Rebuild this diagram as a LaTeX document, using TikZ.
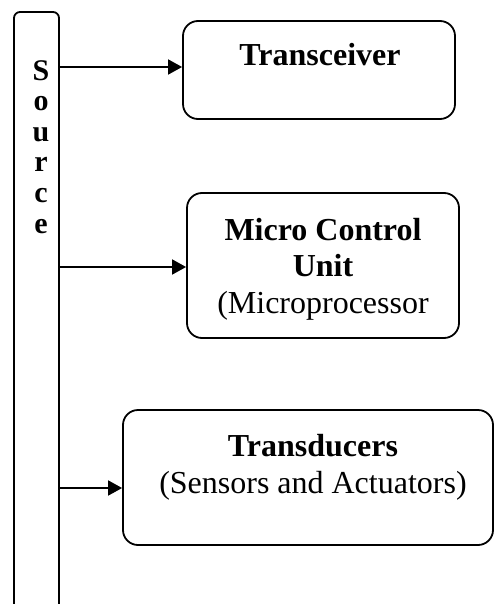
\documentclass[tikz,border=0pt]{standalone}
\usepackage{fontspec}
\setmainfont{Liberation Serif}
\usetikzlibrary{arrows.meta}
\begin{document}
\begin{tikzpicture}[x=1pt,y=-1pt,
  boxstyle/.style={draw, line width=1.8pt, rounded corners=15pt, inner sep=0pt},
  lbl/.style={font=\fontsize{32}{36.5}\selectfont, align=center, inner sep=0pt},
  conn/.style={line width=1.8pt, -{Triangle[length=14pt,width=15pt]}}]
\useasboundingbox (0,0) rectangle (495,604);
\clip (0,0) rectangle (495,604);
% Source bar
\node[draw, line width=1.8pt, rounded corners=6pt, minimum width=45pt, minimum height=608pt, inner sep=0pt] (src) at (36.5,316) {};
\node[font=\fontsize{30}{30.6}\selectfont\bfseries, align=center, inner sep=0pt, anchor=base] (srctxt) at (41,233) {S\\o\\u\\r\\c\\e};
% boxes
\node[boxstyle, minimum width=272pt, minimum height=98pt] (tr) at (319,70) {};
\node[lbl, anchor=base] (trtxt) at (320,66) {\bfseries Transceiver};
\node[boxstyle, minimum width=272pt, minimum height=145pt] (mcu) at (323,265.5) {};
\node[lbl, anchor=base] (mcutxt) at (323,313) {\bfseries Micro Control\\\bfseries Unit\\(Microprocessor};
\node[boxstyle, minimum width=370pt, minimum height=135pt] (td) at (308,477.5) {};
\node[lbl, anchor=base] (tdtxt) at (313,493) {\bfseries Transducers\\(Sensors and Actuators)};
% connectors
\coordinate (a1) at (59,67);
\coordinate (a2) at (59,267);
\coordinate (a3) at (59,488);
\draw[conn] (a1) -- (a1 -| tr.west);
\draw[conn] (a2) -- (a2 -| mcu.west);
\draw[conn] (a3) -- (a3 -| td.west);
\end{tikzpicture}
\end{document}
